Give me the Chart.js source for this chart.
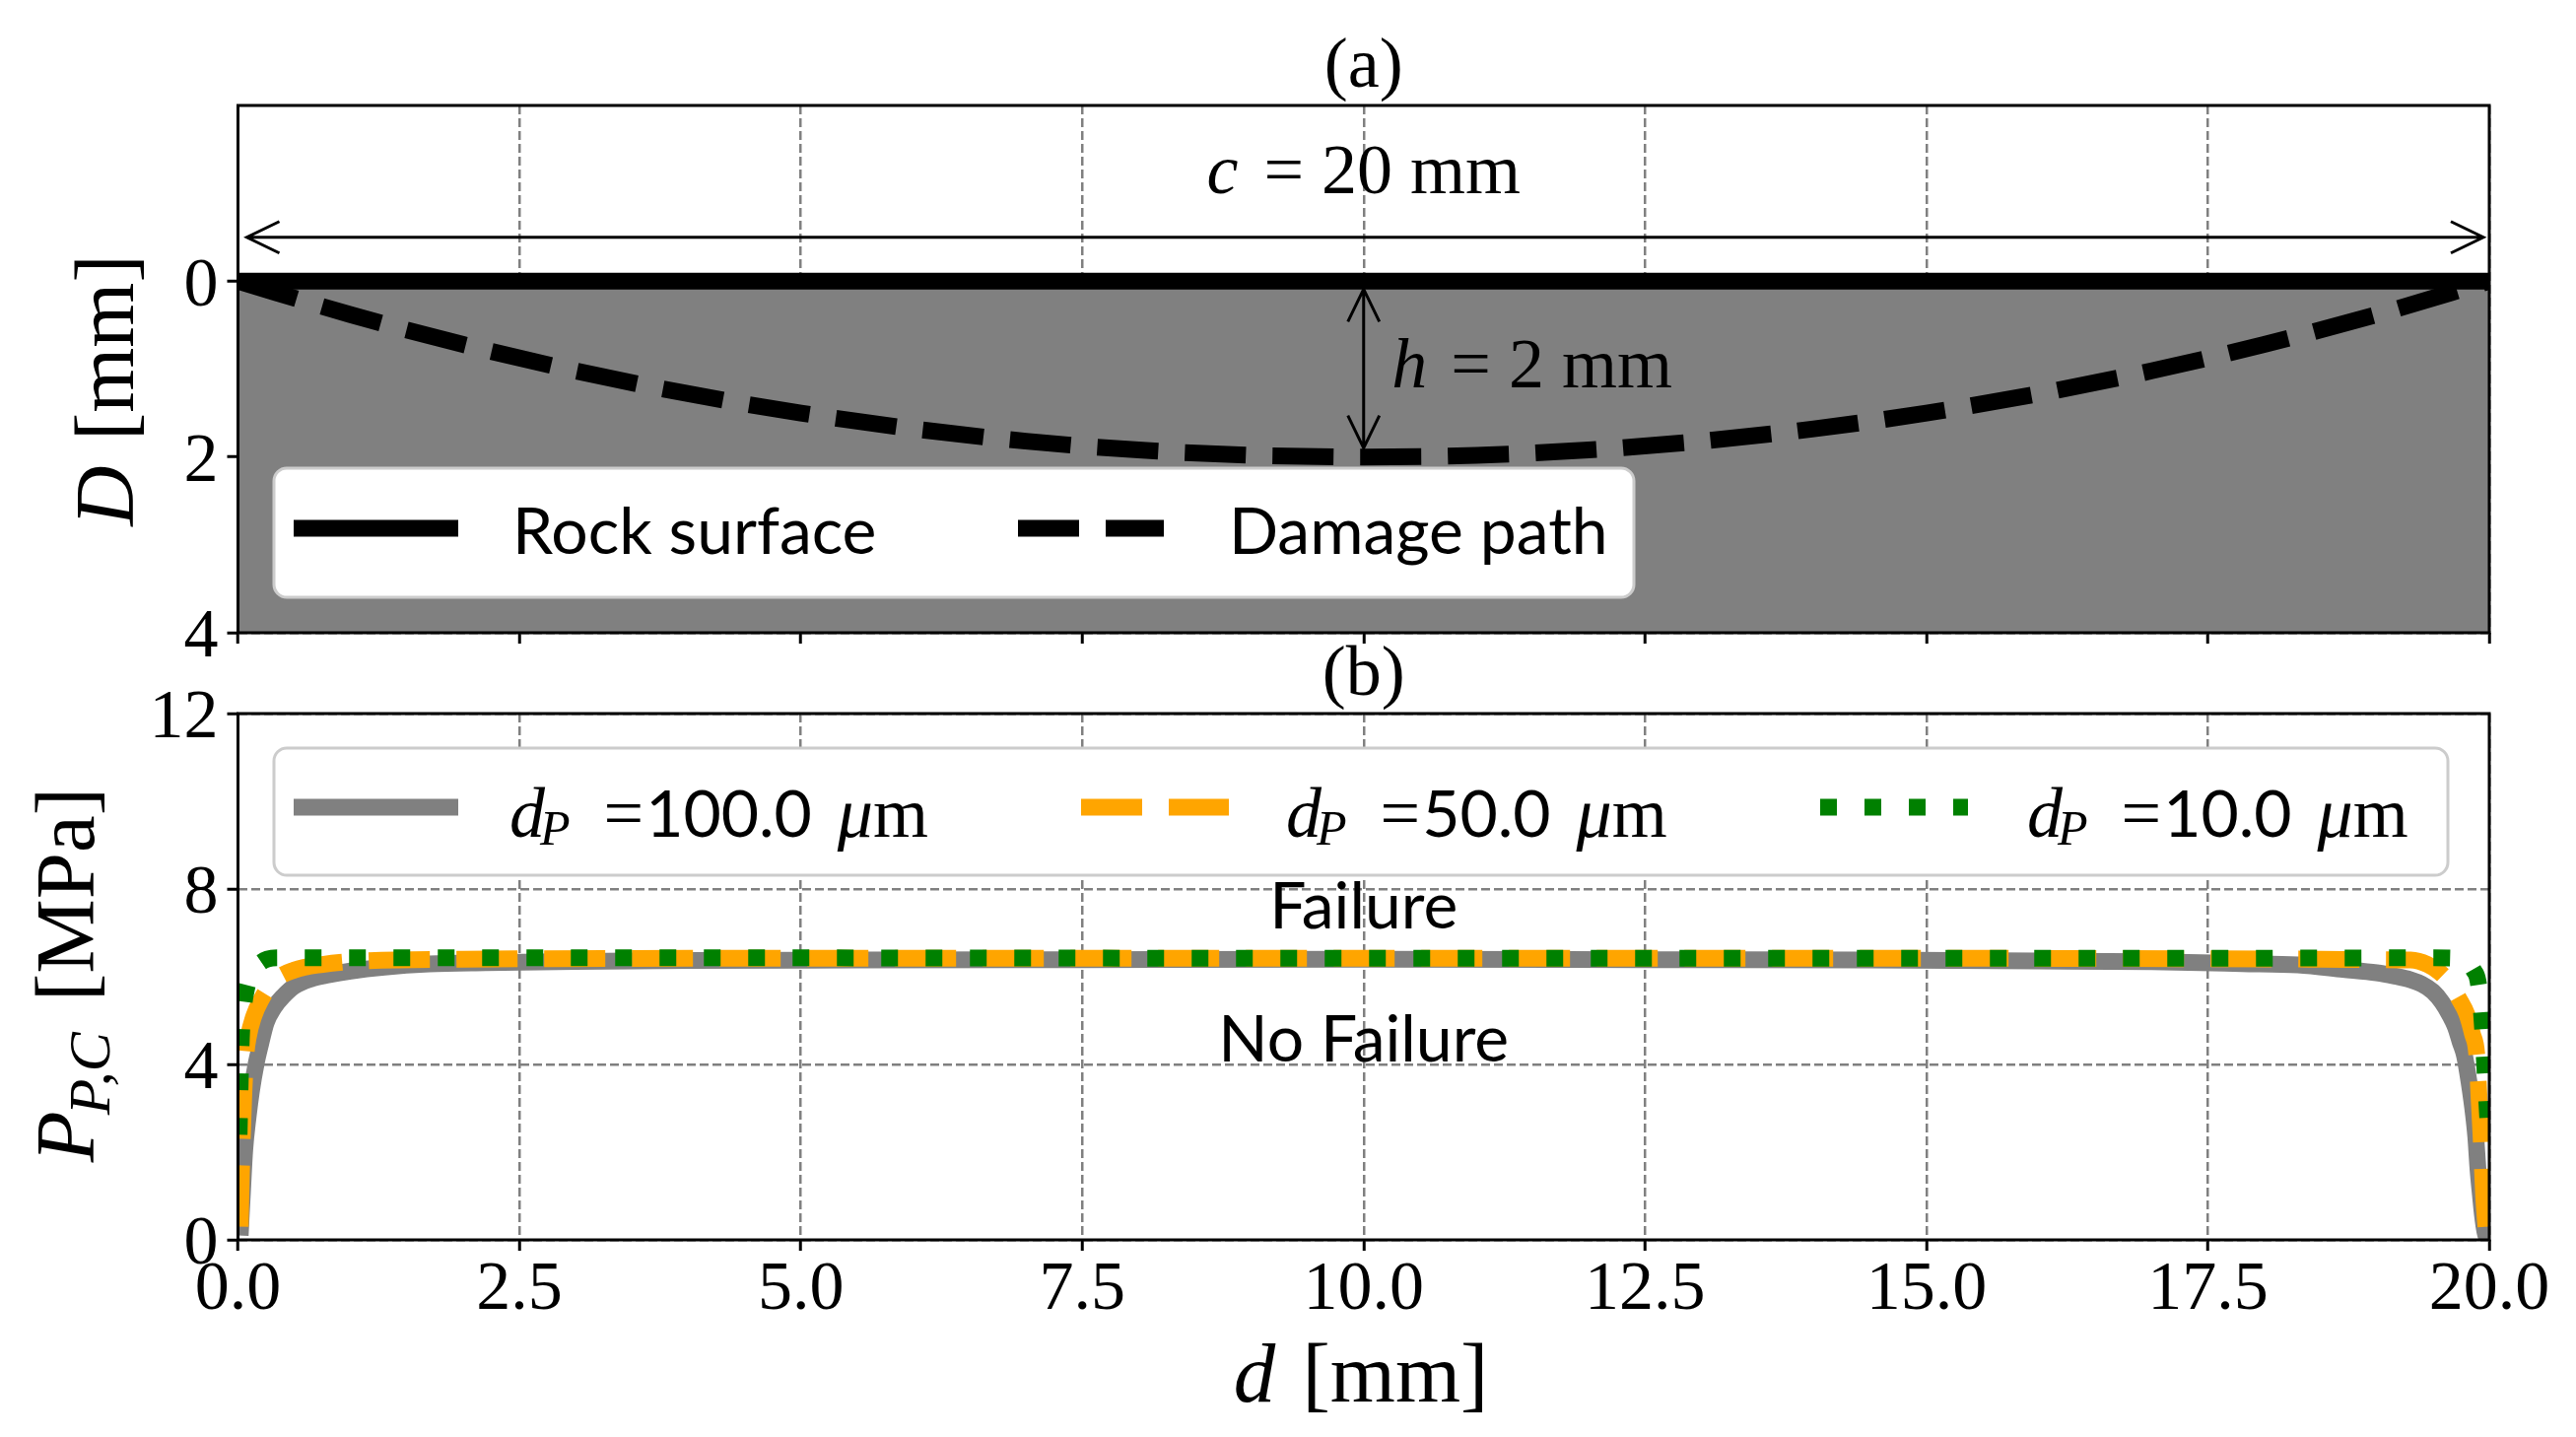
<!DOCTYPE html>
<html>
<head>
<meta charset="utf-8">
<script src="https://cdn.jsdelivr.net/npm/chart.js@4.4.1/dist/chart.umd.min.js"></script>
<style>
  html, body { margin: 0; padding: 0; background: #ffffff; }
  body { width: 2614px; height: 1458px; position: relative; overflow: hidden; }
  canvas { position: absolute; left: 0; }
</style>
</head>
<body>
<canvas id="c1" width="2614" height="680" style="top:0px"></canvas>
<canvas id="c2" width="2614" height="838" style="top:620px"></canvas>
<script>
// ---------------- DATA ----------------
// Panel (a): geometry
const surfaceD      = [0, 20];
const surfaceDepth  = [0, 0];
const damageD       = [0, 1, 2, 3, 4, 5, 6, 7, 8, 9, 10, 11, 12, 13, 14, 15, 16, 17, 18, 19, 20];
const damageDepth   = [0, 0.38, 0.72, 1.02, 1.28, 1.5, 1.68, 1.82, 1.92, 1.98, 2.0, 1.98, 1.92, 1.82, 1.68, 1.5, 1.28, 1.02, 0.72, 0.38, 0];
const topYTicks     = [0, 2, 4];
const topYRange     = [-2, 4];
const spanArrow     = { x: [0, 20], y: -0.5 };
const depthArrow    = { x: 10, y: [0, 2] };
const spanLabelPos  = { x: 10, y: -1.0 };
const depthLabelPos = { x: 10.25, y: 1.21 };

// Panel (b): critical pressure P_P,C [MPa] vs d [mm]
const dP100 = [0.02,0.04,0.06,0.09,0.12,0.16,0.2,0.25,0.32,0.4,0.5,0.65,0.8,1.0,1.3,1.7,2.2,3.0,4.0,5.5,7.5,10.0,12.5,14.5,16.0,17.0,17.8,18.3,18.7,19.0,19.15,19.3,19.4,19.5,19.58,19.65,19.7,19.74,19.78,19.82,19.86,19.88,19.9,19.92,19.94,19.96,19.98];
const pP100 = [0.1,1.1,2.05,2.8,3.4,4.0,4.45,4.95,5.3,5.55,5.78,5.95,6.04,6.13,6.22,6.29,6.32,6.35,6.37,6.38,6.39,6.4,6.39,6.38,6.36,6.34,6.3,6.27,6.17,6.09,6.02,5.93,5.83,5.66,5.42,5.12,4.85,4.52,4.2,3.6,2.85,2.35,1.6,1.05,0.55,0.2,0.02];
const dP50  = [0.02,0.03,0.05,0.07,0.09,0.14,0.2,0.32,0.5,0.75,1.1,2.0,5.0,10.0,15.0,17.5,18.5,19.0,19.3,19.45,19.56,19.65,19.73,19.8,19.85,19.89,19.91,19.93,19.95,19.97];
const pP50  = [0.3,1.5,3.2,4.2,4.6,5.1,5.45,5.9,6.15,6.28,6.36,6.4,6.42,6.42,6.42,6.41,6.4,6.39,6.38,6.28,6.1,5.85,5.5,5.15,4.7,4.2,3.2,2.2,1.0,0.3];
const dP10  = [0.01,0.02,0.03,0.05,0.07,0.1,0.15,0.2,0.26,0.35,0.5,1.0,2.5,5.0,10.0,15.0,17.5,19.0,19.5,19.72,19.8,19.86,19.9,19.93,19.95,19.97,19.99];
const pP10  = [2.4,3.6,4.6,5.3,5.65,5.95,6.2,6.32,6.4,6.43,6.43,6.43,6.43,6.43,6.42,6.42,6.42,6.43,6.43,6.42,6.35,6.15,5.9,5.2,4.4,3.5,2.6];
const seriesLabels = ['100.0', '50.0', '10.0'];
const xTickStep = 2.5;
const botYRange = [0, 12];
const botYStep  = 4;
const failureLabel   = { x: 10, y: 7.1,  text: 'Failure' };
const noFailureLabel = { x: 10, y: 4.07, text: 'No Failure' };

// ---------------- STYLE ----------------
const SERIF = '"Liberation Serif"';
const SANS  = 'Lato';
const OFF2  = 620;
const GRID  = '#808080';
const pts = (xs, ys) => xs.map((x, i) => ({ x: x, y: ys[i] }));

function drawRich(ctx, pieces, x, y, align) {
  let total = 0; const ws = [];
  for (const p of pieces) { ctx.font = p.f; const w = ctx.measureText(p.t).width; ws.push(w); total += (p.dx || 0) + w; }
  let cx = align === 'center' ? x - total / 2 : (align === 'right' ? x - total : x);
  ctx.textAlign = 'left'; ctx.textBaseline = 'alphabetic';
  pieces.forEach((p, i) => { cx += (p.dx || 0); ctx.font = p.f; ctx.fillText(p.t, cx, y + (p.dy || 0)); cx += ws[i]; });
  return total;
}
function roundBox(ctx, x0, y0, x1, y1, r) {
  ctx.beginPath();
  ctx.moveTo(x0 + r, y0); ctx.lineTo(x1 - r, y0); ctx.arcTo(x1, y0, x1, y0 + r, r);
  ctx.lineTo(x1, y1 - r); ctx.arcTo(x1, y1, x1 - r, y1, r);
  ctx.lineTo(x0 + r, y1); ctx.arcTo(x0, y1, x0, y1 - r, r);
  ctx.lineTo(x0, y0 + r); ctx.arcTo(x0, y0, x0 + r, y0, r);
  ctx.closePath();
  ctx.fillStyle = '#ffffff'; ctx.fill();
  ctx.lineWidth = 3; ctx.strokeStyle = '#cccccc'; ctx.stroke();
}
function handle(ctx, x0, x1, y, color, dash) {
  ctx.save(); ctx.beginPath(); ctx.lineWidth = 17; ctx.strokeStyle = color; ctx.lineCap = 'butt';
  ctx.setLineDash(dash || []); ctx.moveTo(x0, y); ctx.lineTo(x1, y); ctx.stroke(); ctx.restore();
}
function arrowHead(ctx, tx, ty, ux, uy) {
  const L = 33, H = 16; const bx = tx - ux * L, by = ty - uy * L; const px = -uy, py = ux;
  ctx.moveTo(bx + px * H, by + py * H); ctx.lineTo(tx, ty); ctx.lineTo(bx - px * H, by - py * H);
}
function frame(chart) {
  const a = chart.chartArea, ctx = chart.ctx;
  ctx.save(); ctx.lineWidth = 3; ctx.strokeStyle = '#000';
  ctx.strokeRect(a.left, a.top, a.right - a.left, a.bottom - a.top); ctx.restore();
}

const tickFont  = { family: SERIF, size: 70, lineHeight: 1 };
// y tick labels: two-line label ['', v] with a small line height nudges the digits down a few px
const yTickFont = { family: SERIF, size: 70, lineHeight: 0.17 };
function xScale(showLabels) {
  return {
    type: 'linear', min: 0, max: 20,
    ticks: { stepSize: xTickStep, autoSkip: false, font: tickFont, color: '#000', padding: 6, maxRotation: 0,
             callback: v => showLabels ? Number(v).toFixed(1) : '' },
    grid: { color: GRID, lineWidth: 2.5, tickColor: '#000', tickWidth: 3, tickLength: 11 },
    border: { display: false, dash: [9, 4] }
  };
}

// ---------------- PANEL (a) ----------------
const decorA = {
  id: 'decorA',
  afterDatasetsDraw(chart) {
    const ctx = chart.ctx, xs = chart.scales.x, ys = chart.scales.y;
    ctx.save(); ctx.strokeStyle = '#000'; ctx.lineWidth = 3; ctx.beginPath();
    const ay = ys.getPixelForValue(spanArrow.y);
    const ax0 = xs.getPixelForValue(spanArrow.x[0]) + 9, ax1 = xs.getPixelForValue(spanArrow.x[1]) - 6;
    ctx.moveTo(ax0, ay); ctx.lineTo(ax1, ay);
    arrowHead(ctx, ax0, ay, -1, 0); arrowHead(ctx, ax1, ay, 1, 0);
    const vx = xs.getPixelForValue(depthArrow.x);
    const vy0 = ys.getPixelForValue(depthArrow.y[0]) + 8, vy1 = ys.getPixelForValue(depthArrow.y[1]) - 9;
    ctx.moveTo(vx, vy0); ctx.lineTo(vx, vy1);
    arrowHead(ctx, vx, vy0, 0, -1); arrowHead(ctx, vx, vy1, 0, 1);
    ctx.stroke();
    ctx.fillStyle = '#000';
    const it = 'italic 72px ' + SERIF, rm = '72px ' + SERIF;
    drawRich(ctx, [{ t: 'c', f: it }, { t: ' = ', f: rm, dx: 8 }, { t: '20 mm', f: rm }],
      xs.getPixelForValue(spanLabelPos.x), ys.getPixelForValue(spanLabelPos.y), 'center');
    drawRich(ctx, [{ t: 'h', f: it }, { t: ' = ', f: rm, dx: 6 }, { t: '2 mm', f: rm }],
      xs.getPixelForValue(depthLabelPos.x), ys.getPixelForValue(depthLabelPos.y), 'left');
    ctx.restore();
  },
  afterDraw(chart) {
    const ctx = chart.ctx, a = chart.chartArea;
    frame(chart);
    ctx.save(); ctx.fillStyle = '#000';
    drawRich(ctx, [{ t: '(a)', f: '72px ' + SERIF }], (a.left + a.right) / 2, 88, 'center');
    ctx.save(); ctx.translate(135, 396); ctx.rotate(-Math.PI / 2);
    drawRich(ctx, [{ t: 'D', f: 'italic 85px ' + SERIF }, { t: ' [mm]', f: '85px ' + SERIF, dx: 4 }], 0, 0, 'center');
    ctx.restore();
    roundBox(ctx, 278, 475, 1658, 606, 13);
    handle(ctx, 298, 465, 536, '#000');
    handle(ctx, 1033, 1181, 536, '#000', [62, 27]);
    ctx.fillStyle = '#000';
    drawRich(ctx, [{ t: chart.data.datasets[0].label, f: '66px ' + SANS }], 520, 562, 'left');
    drawRich(ctx, [{ t: chart.data.datasets[1].label, f: '66px ' + SANS }], 1247, 562, 'left');
    ctx.restore();
  }
};

new Chart(document.getElementById('c1'), {
  type: 'line',
  data: {
    datasets: [
      { label: 'Rock surface', data: pts(surfaceD, surfaceDepth), borderColor: '#000', borderWidth: 17,
        pointRadius: 0, fill: { value: topYRange[1] }, backgroundColor: '#808080', clip: 0, borderCapStyle: 'butt' },
      { label: 'Damage path', data: pts(damageD, damageDepth), borderColor: '#000', borderWidth: 17,
        borderDash: [62, 27], pointRadius: 0, fill: false, cubicInterpolationMode: 'monotone', clip: 0, borderCapStyle: 'butt' }
    ]
  },
  options: {
    responsive: false, animation: false, devicePixelRatio: 1,
    layout: { padding: { left: 0, right: 88, top: 107, bottom: 0 } },
    plugins: { legend: { display: false }, tooltip: { enabled: false }, filler: { drawTime: 'beforeDatasetsDraw' } },
    scales: {
      x: Object.assign(xScale(false), { afterFit: s => { s.height = 38; } }),
      y: {
        type: 'linear', min: topYRange[0], max: topYRange[1], reverse: true,
        afterBuildTicks: s => { s.ticks = topYTicks.map(v => ({ value: v })); },
        afterFit: s => { s.width = 241.5; },
        ticks: { font: yTickFont, color: '#000', padding: 9, callback: v => ['', String(v)] },
        grid: { color: GRID, lineWidth: 2.5, tickColor: '#000', tickWidth: 3, tickLength: 11 },
        border: { display: false, dash: [9, 4] }
      }
    }
  },
  plugins: [decorA]
});

// ---------------- PANEL (b) ----------------
const decorB = {
  id: 'decorB',
  afterDatasetsDraw(chart) {
    const ctx = chart.ctx, xs = chart.scales.x, ys = chart.scales.y;
    ctx.save(); ctx.fillStyle = '#000';
    for (const L of [failureLabel, noFailureLabel]) {
      drawRich(ctx, [{ t: L.text, f: '66px ' + SANS }], xs.getPixelForValue(L.x), ys.getPixelForValue(L.y), 'center');
    }
    ctx.restore();
  },
  afterDraw(chart) {
    const ctx = chart.ctx, a = chart.chartArea;
    frame(chart);
    ctx.save(); ctx.fillStyle = '#000';
    drawRich(ctx, [{ t: '(b)', f: '72px ' + SERIF }], (a.left + a.right) / 2, 705 - OFF2, 'center');
    drawRich(ctx, [{ t: 'd', f: 'italic 85px ' + SERIF }, { t: ' [mm]', f: '85px ' + SERIF, dx: 6 }], 1381, 1422 - OFF2, 'center');
    ctx.save(); ctx.translate(95, 989 - OFF2); ctx.rotate(-Math.PI / 2);
    drawRich(ctx, [{ t: 'P', f: 'italic 85px ' + SERIF }, { t: 'P,C', f: 'italic 60px ' + SERIF, dy: 16, dx: -4 },
                   { t: ' [MPa]', f: '85px ' + SERIF, dx: 10 }], 0, 0, 'center');
    ctx.restore();
    const ly = 819 - OFF2, tb = 849 - OFF2;
    roundBox(ctx, 278, 759 - OFF2, 2484, 888 - OFF2, 13);
    const ds = chart.data.datasets;
    const hx = [298, 1097, 1847], tx = [517, 1305, 2057];
    ds.forEach((d, i) => {
      handle(ctx, hx[i], hx[i] + (i === 0 ? 167 : 150), ly, d.borderColor, d.borderDash);
      ctx.fillStyle = '#000';
      drawRich(ctx, [
        { t: 'd', f: 'italic 72px ' + SERIF },
        { t: 'P', f: 'italic 50px ' + SERIF, dy: 8, dx: -5 },
        { t: '=', f: '72px ' + SERIF, dx: 34 },
        { t: seriesLabels[i], f: '66px ' + SANS, dx: 2 },
        { t: 'μ', f: 'italic 72px ' + SERIF, dx: 26 },
        { t: 'm', f: '72px ' + SERIF }
      ], tx[i], tb, 'left');
    });
    ctx.restore();
  }
};

new Chart(document.getElementById('c2'), {
  type: 'line',
  data: {
    datasets: [
      { label: 'dP=100', data: pts(dP100, pP100), borderColor: '#808080', borderWidth: 17, pointRadius: 0,
        fill: false, cubicInterpolationMode: 'monotone', clip: 0, order: 3 },
      { label: 'dP=50', data: pts(dP50, pP50), borderColor: '#ffa500', borderWidth: 17, pointRadius: 0,
        borderDash: [62, 27], fill: false, cubicInterpolationMode: 'monotone', clip: 0, order: 2, borderCapStyle: 'butt' },
      { label: 'dP=10', data: pts(dP10, pP10), borderColor: '#008000', borderWidth: 17, pointRadius: 0,
        borderDash: [17, 28], fill: false, cubicInterpolationMode: 'monotone', clip: 0, order: 1, borderCapStyle: 'butt' }
    ]
  },
  options: {
    responsive: false, animation: false, devicePixelRatio: 1,
    layout: { padding: { left: 0, right: 88, top: 724 - OFF2, bottom: 0 } },
    plugins: { legend: { display: false }, tooltip: { enabled: false } },
    scales: {
      x: Object.assign(xScale(true), { afterFit: s => { s.height = 200; } }),
      y: {
        type: 'linear', min: botYRange[0], max: botYRange[1],
        afterFit: s => { s.width = 241.5; },
        ticks: { stepSize: botYStep, font: yTickFont, color: '#000', padding: 9, callback: v => ['', String(v)] },
        grid: { color: GRID, lineWidth: 2.5, tickColor: '#000', tickWidth: 3, tickLength: 11 },
        border: { display: false, dash: [9, 4] }
      }
    }
  },
  plugins: [decorB]
});
</script>
</body>
</html>
